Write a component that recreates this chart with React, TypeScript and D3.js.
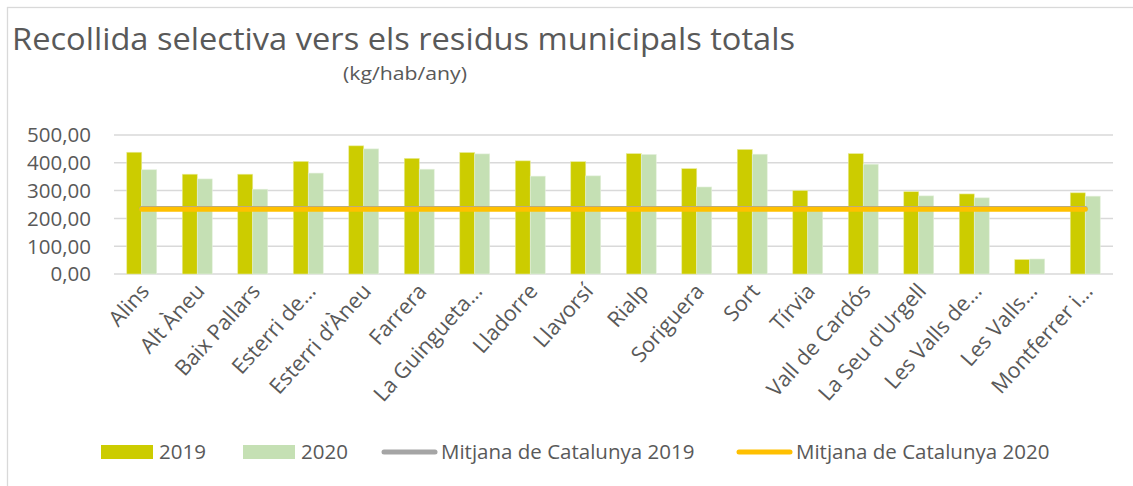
import React from "react";
import * as d3 from "d3";

const municipis = [
  "Alins",
  "Alt Àneu",
  "Baix Pallars",
  "Esterri de…",
  "Esterri d’Àneu",
  "Farrera",
  "La Guingueta…",
  "Lladorre",
  "Llavorsí",
  "Rialp",
  "Soriguera",
  "Sort",
  "Tírvia",
  "Vall de Cardós",
  "La Seu d'Urgell",
  "Les Valls de…",
  "Les Valls…",
  "Montferrer i…",
];

const values2019 = [438, 359, 359, 405, 461, 416, 437, 407, 404, 433, 379, 448, 300, 433, 296, 288, 52, 292];
const values2020 = [375, 342, 305, 363, 450, 377, 432, 352, 353, 430, 313, 431, 235, 395, 281, 274, 54, 280];

const mitjana2019 = 236;
const mitjana2020 = 233;

const yTicks = [0, 100, 200, 300, 400, 500];

const WIDTH = 1133;
const HEIGHT = 486;
const FONT = "'Open Sans', sans-serif";
const TEXT = "#595959";

const C2019 = "#cccc00";
const C2020 = "#c5e0b4";
const CGRAY = "#a5a5a5";
const CORANGE = "#ffc000";

const fmt = (v: number) => v.toFixed(2).replace(".", ",");

export default function App() {
  const margin = { left: 114, right: 20, top: 135, bottom: 212 };
  const plotRight = WIDTH - margin.right;
  const plotBottom = HEIGHT - margin.bottom;

  const x = d3
    .scaleBand()
    .domain(municipis)
    .range([margin.left, plotRight])
    .paddingInner(0.46)
    .paddingOuter(0.23);

  const years = ["2019", "2020"];
  const xSub = d3.scaleBand().domain(years).range([0, x.bandwidth()]);

  const y = d3.scaleLinear().domain([0, 500]).range([plotBottom, margin.top]);

  const center = (m: string) => (x(m) ?? 0) + x.bandwidth() / 2;

  const line = d3.line<string>().x((d) => center(d));

  const firstLast = [municipis[0], municipis[municipis.length - 1]];

  const legend = [
    { label: "2019", kind: "rect", color: C2019, x: 101 },
    { label: "2020", kind: "rect", color: C2020, x: 243 },
    { label: "Mitjana de Catalunya 2019", kind: "line", color: CGRAY, x: 382 },
    { label: "Mitjana de Catalunya 2020", kind: "line", color: CORANGE, x: 737 },
  ];
  const legendY = 452;

  return (
    <svg
      width={WIDTH}
      height={HEIGHT}
      style={{ position: "absolute", left: 0, top: 0, background: "#fff" }}
      fontFamily={FONT}
    >
      <rect x={7.5} y={7.5} width={1200} height={600} fill="#fff" stroke="#d9d9d9" strokeWidth={1.3} />

      {/* title */}
      <text x={12} y={50} fontSize={31} fill={TEXT} textLength={783} lengthAdjust="spacingAndGlyphs">
        Recollida selectiva vers els residus municipals totals
      </text>
      <text x={343} y={80} fontSize={18} fill={TEXT} textLength={124} lengthAdjust="spacingAndGlyphs">
        (kg/hab/any)
      </text>

      {/* grid + y axis */}
      {yTicks.map((t) => (
        <g key={t}>
          <line x1={margin.left} x2={plotRight} y1={y(t)} y2={y(t)} stroke="#d9d9d9" strokeWidth={1.5} />
          <text x={91} y={y(t)} dy="0.36em" textAnchor="end" fontSize={20.5} fill={TEXT}>
            {fmt(t)}
          </text>
        </g>
      ))}

      {/* bars */}
      {municipis.map((m, i) => (
        <g key={m} transform={`translate(${x(m)},0)`}>
          <rect
            x={xSub("2019")}
            y={y(values2019[i])}
            width={xSub.bandwidth()}
            height={y(0) - y(values2019[i])}
            fill={C2019}
            stroke="#e8ec9a"
            strokeWidth={0.6}
          />
          <rect
            x={xSub("2020")}
            y={y(values2020[i])}
            width={xSub.bandwidth()}
            height={y(0) - y(values2020[i])}
            fill={C2020}
            stroke="#e4f0dc"
            strokeWidth={0.6}
          />
        </g>
      ))}

      {/* averages */}
      <path
        d={line.y(() => y(mitjana2019))(firstLast) ?? ""}
        stroke={CGRAY}
        strokeWidth={5}
        strokeLinecap="round"
        fill="none"
      />
      <path
        d={line.y(() => y(mitjana2020))(firstLast) ?? ""}
        stroke={CORANGE}
        strokeWidth={5}
        strokeLinecap="round"
        fill="none"
      />

      {/* x labels */}
      {municipis.map((m) => (
        <text
          key={m}
          transform={`translate(${center(m) + 3},${plotBottom + 13}) rotate(-48)`}
          textAnchor="end"
          dy="0.35em"
          fontSize={21.5}
          fill={TEXT}
        >
          {m}
        </text>
      ))}

      {/* legend */}
      {legend.map((l) => (
        <g key={l.label} transform={`translate(${l.x},${legendY})`}>
          {l.kind === "rect" ? (
            <rect x={0} y={-7} width={52} height={14} fill={l.color} />
          ) : (
            <line x1={2} x2={53} y1={0} y2={0} stroke={l.color} strokeWidth={5} strokeLinecap="round" />
          )}
          <text x={l.kind === "rect" ? 58 : 59} y={0} dy="0.36em" fontSize={20.5} fill={TEXT}>
            {l.label}
          </text>
        </g>
      ))}
    </svg>
  );
}
